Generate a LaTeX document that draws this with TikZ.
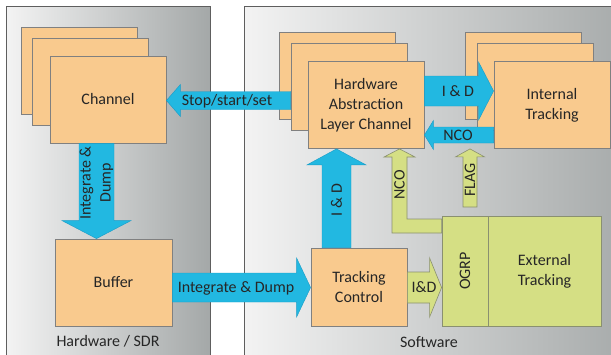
\documentclass[tikz,border=0pt]{standalone}
\usepackage{fontspec}
\setmainfont{Carlito}
\usetikzlibrary{calc}

\definecolor{peach}{HTML}{F9CA8E}
\definecolor{boxline}{HTML}{808080}
\definecolor{fatblue}{HTML}{22B8E1}
\definecolor{fatblueline}{HTML}{1A9CC6}
\definecolor{leaf}{HTML}{D5DF84}
\definecolor{leafline}{HTML}{8A9070}
\definecolor{panlight}{HTML}{F3F3F3}
\definecolor{pandark}{HTML}{A4A8A8}
\definecolor{panline}{HTML}{5E5E5E}
\definecolor{ink}{HTML}{262626}

% horizontal block arrow: style, from, to, y centre, half shaft, half head, signed head length
\newcommand{\hfat}[7]{%
  \filldraw[#1]
    ($(#2 |- 0,#4)+(0,{-(#5)})$) --
    ($(#3 |- 0,#4)+({-(#7)},{-(#5)})$) --
    ($(#3 |- 0,#4)+({-(#7)},{-(#6)})$) --
    (#3 |- 0,#4) --
    ($(#3 |- 0,#4)+({-(#7)},#6)$) --
    ($(#3 |- 0,#4)+({-(#7)},#5)$) --
    ($(#2 |- 0,#4)+(0,#5)$) -- cycle;}
% vertical block arrow: style, from, to, x centre, half shaft, half head, signed head length
\newcommand{\vfat}[7]{%
  \filldraw[#1]
    ($(#2 -| #4,0)+({-(#5)},0)$) --
    ($(#3 -| #4,0)+({-(#5)},{-(#7)})$) --
    ($(#3 -| #4,0)+({-(#6)},{-(#7)})$) --
    (#3 -| #4,0) --
    ($(#3 -| #4,0)+(#6,{-(#7)})$) --
    ($(#3 -| #4,0)+(#5,{-(#7)})$) --
    ($(#2 -| #4,0)+(#5,0)$) -- cycle;}

\begin{document}
\begin{tikzpicture}[x=1pt,y=-1pt,
  font=\fontsize{16}{20}\selectfont, text=ink,
  block/.style={draw=boxline, fill=peach, line width=0.8pt, inner sep=0pt,
    align=center, minimum width=116, minimum height=87},
  greenblock/.style={draw=leafline, fill=leaf, line width=0.8pt, inner sep=0pt,
    align=center, minimum height=110},
  bluearrow/.style={fill=fatblue, draw=fatblueline, line width=0.4pt},
  greenarrow/.style={fill=leaf, draw=leafline, line width=0.6pt},
  lab/.style={inner sep=0pt, align=center},
  panelframe/.style={draw=panline, line width=0.9pt}]

\useasboundingbox (0,0) rectangle (611,354);

% the two domains
\shade[left color=panlight, right color=pandark] (6,6) rectangle (210,360);
\draw[panelframe] (6,360) -- (6,6) -- (210,6) -- (210,360);
\shade[left color=panlight, right color=pandark] (244,6) rectangle (640,360);
\draw[panelframe] (244,360) -- (244,6) -- (640,6);

% hardware side
\node[block] (chanA) at (79,70.5) {};
\node[block] (chanB) at (90,82) {};
\node[block] (chan) at (108,99.5) {Channel};
\node[block, minimum width=117] (buf) at (113.5,282.5) {Buffer};

% software side
\node[block] (halA) at (337.5,76) {};
\node[block] (halB) at (349,87) {};
\node[block] (hal) at (366,105) {Hardware\\Abstraction\\Layer Channel};
\node[block] (itA) at (523,76) {};
\node[block] (itB) at (535,87) {};
\node[block] (it) at (552,105) {Internal\\Tracking};
\node[block, minimum width=96, minimum height=78] (tc) at (359,287) {Tracking\\Control};
\node[greenblock, minimum width=46] (ogrp) at (465,271) {};
\node[greenblock, minimum width=113] (ext) at (544.5,271) {External\\Tracking};
\coordinate (flagfoot) at (470,207);

% data and control flows
\hfat{bluearrow}{halB.west}{chan.east}{100.5}{9}{16}{-14}
\vfat{bluearrow}{chan.south}{buf.north}{96.5}{17.5}{34.5}{18}
\hfat{bluearrow}{buf.east}{tc.west}{287.5}{14.5}{29.5}{14}
\vfat{bluearrow}{tc.north}{hal.south}{336.5}{14.5}{29.5}{-16}
\hfat{bluearrow}{hal.east}{it.west}{91}{15}{29}{15}
\hfat{bluearrow}{it.west}{hal.east}{135}{8}{14.5}{-9}
\vfat{greenarrow}{flagfoot}{it.south}{470}{7}{14.5}{-8}
\hfat{greenarrow}{tc.east}{ogrp.west}{287.5}{15.5}{29.5}{12}
\filldraw[greenarrow] (ogrp.west |- 0,219) -- (407,219) -- (407,157) -- (415,157)
  -- (hal.south -| 399.5,0) -- (384,157) -- (392,157) -- (392,233)
  -- (ogrp.west |- 0,233) -- cycle;

% flow labels
\node[lab] (lstop) at (227,101) {Stop/start/set};
\node[lab, rotate=90] (lid1) at (96.5,183) {Integrate \&\\Dump};
\node[lab] (lid2) at (236,288) {Integrate \& Dump};
\node[lab, rotate=90] (lid3) at (336.5,200) {I \& D};
\node[lab] (lid4) at (458,91) {I \& D};
\node[lab] (lnco1) at (458,135) {NCO};
\node[lab, rotate=90] (lnco2) at (399.5,185) {NCO};
\node[lab, rotate=90] (lflag) at (470,180) {FLAG};
\node[lab] (lid5) at (424,287) {I\&D};
\node[lab, rotate=90] (logrp) at (465,271) {OGRP};

% domain captions
\node[lab] (hwcap) at (108,341) {Hardware / SDR};
\node[lab] (swcap) at (429,342) {Software};
\end{tikzpicture}
\end{document}
